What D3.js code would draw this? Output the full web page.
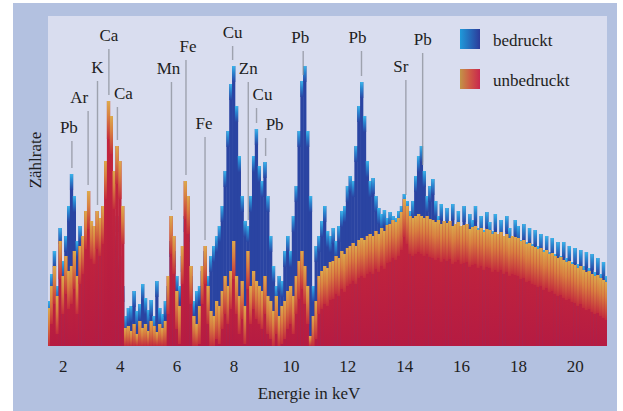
<!DOCTYPE html>
<html>
<head>
<meta charset="utf-8">
<script src="https://cdn.jsdelivr.net/npm/d3@7"></script>
<style>
  body { margin: 0; background: #fff; }
  svg text { font-family: "Liberation Serif", "DejaVu Serif", serif; fill: #1e1e22; }
</style>
</head>
<body>
<script>
// spectrum bins: 0.1 keV wide, first bin centred on 1.5 keV
var binStart = 1.5,
    binWidth = 0.1;

// counts per bin, one row = 1 keV
var bedruckt = [
  45, 72, 95, 60, 118, 85, 110, 140, 172, 150,
  105, 120, 95, 110, 125, 100, 115, 120, 95, 110,
  130, 140, 120, 110, 130, 90, 60, 30, 38, 40,
  55, 35, 42, 62, 48, 36, 46, 30, 65, 38,
  32, 45, 60, 105, 95, 70, 60, 90, 130, 120,
  70, 45, 55, 60, 75, 95, 70, 90, 100, 110,
  120, 140, 175, 215, 262, 280, 240, 190, 150, 125,
  120, 150, 190, 217, 180, 165, 184, 150, 110, 80,
  60, 70, 65, 95, 110, 95, 130, 160, 215, 265,
  280, 215, 150, 60, 100, 110, 125, 140, 115, 110,
  118, 105, 120, 135, 140, 160, 170, 165, 200, 240,
  264, 230, 185, 165, 168, 150, 138, 132, 136, 128,
  134, 130, 128, 135, 140, 152, 145, 135, 145, 170,
  190, 200, 175, 150, 160, 167, 145, 130, 142, 125,
  138, 124, 142, 122, 135, 120, 140, 118, 132, 126,
  140, 118, 130, 116, 134, 124, 115, 132, 112, 126,
  110, 130, 118, 108, 126, 120, 106, 122, 104, 118,
  102, 116, 100, 112, 96, 110, 94, 108, 92, 104,
  90, 104, 88, 100, 84, 98, 82, 96, 80, 94,
  78, 92, 74, 88, 72, 84, 70];

var unbedruckt = [
  38, 60, 80, 50, 105, 70, 90, 75, 80, 95,
  70, 100, 110, 135, 155, 125, 120, 135, 128, 140,
  185, 245, 230, 175, 200, 185, 140, 18, 20, 15,
  22, 12, 25, 18, 22, 15, 25, 20, 14, 22,
  18, 25, 70, 130, 110, 55, 40, 100, 165, 150,
  80, 30, 22, 40, 80, 100, 60, 35, 30, 45,
  40, 55, 70, 60, 75, 105, 70, 50, 65, 40,
  95, 60, 75, 65, 60, 55, 70, 50, 45, 35,
  50, 30, 40, 45, 55, 60, 50, 70, 85, 95,
  80, 60, 10, 30, 45, 70, 75, 80, 78, 84,
  85, 90, 88, 95, 92, 98, 100, 103, 100, 106,
  108, 106, 110, 112, 110, 115, 112, 118, 115, 121,
  122, 126, 124, 128, 134, 147, 140, 130, 128, 130,
  132, 130, 128, 130, 127, 126, 124, 126, 122, 125,
  123, 125, 120, 122, 124, 120, 121, 122, 117, 119,
  120, 116, 118, 114, 117, 116, 112, 114, 112, 114,
  110, 112, 108, 110, 109, 108, 105, 106, 102, 103,
  100, 99, 97, 98, 94, 96, 92, 93, 90, 88,
  89, 86, 84, 85, 82, 81, 78, 80, 76, 74,
  75, 72, 70, 71, 68, 66, 64];

var xTicks = [2, 4, 6, 8, 10, 12, 14, 16, 18, 20];

var peakNames = ["Pb", "Ar", "K", "Ca", "Ca", "Mn", "Fe", "Fe", "Cu", "Zn", "Cu", "Pb", "Pb", "Pb", "Sr", "Pb"];
var peakEnergies = [2.32, 2.89, 3.22, 3.62, 3.92, 5.82, 6.33, 7.0, 7.97, 8.52, 8.81, 9.13, 10.45, 12.5, 14.06, 14.65];
// label placement (px): text baseline and shift of text centre from the marker line
var peakLabelY = [133, 103, 73, 41, 99, 74, 52, 129, 38, 74, 100, 130, 43, 43, 72, 45];
var peakLabelDx = [-3, -9, 0, 0, 6, -3, 2, -1, 0, 0, 6, 9, -3, -4, -5, 0];

var legendNames = ["bedruckt", "unbedruckt"];

var W = 623, H = 411;
var plot = {left: 48, right: 607, top: 16, bottom: 346};

var svg = d3.select("body").append("svg")
    .attr("width", W)
    .attr("height", H);

var defs = svg.append("defs");

function grad(id, horizontal, stops) {
    var g = defs.append("linearGradient").attr("id", id)
        .attr("x1", 0).attr("y1", 0)
        .attr("x2", horizontal ? 1 : 0).attr("y2", horizontal ? 0 : 1);
    stops.forEach(function(s) {
        g.append("stop").attr("offset", s[0]).attr("stop-color", s[1]);
    });
}
grad("blueCap", false, [[0, "#3cb4ea"], [0.4, "#2a86d0"], [1, "#2a45a4"]]);
grad("redCap", false, [[0, "#dcaa4c"], [0.4, "#d88040"], [1, "#c42c3c"]]);
grad("redBody", false, [[0, "#c4263c"], [1, "#b51b42"]]);
grad("blueKey", true, [[0, "#1f9ada"], [1, "#2c3b9a"]]);
grad("redKey", true, [[0, "#c29448"], [0.5, "#cf5845"], [1, "#c8284e"]]);

defs.append("clipPath").attr("id", "plotClip")
    .append("rect")
    .attr("x", plot.left).attr("y", plot.top)
    .attr("width", plot.right - plot.left)
    .attr("height", plot.bottom - plot.top);

// frame and panel
svg.append("rect")
    .attr("x", 13).attr("y", 3)
    .attr("width", 604).attr("height", H - 3)
    .attr("fill", "#b3c1e0");
svg.append("rect")
    .attr("x", plot.left).attr("y", plot.top)
    .attr("width", plot.right - plot.left)
    .attr("height", plot.bottom - plot.top)
    .attr("fill", "#d9ddef");

var x = d3.scaleLinear()
    .domain([1.48, 21.13])
    .range([plot.left, plot.right]);

var y = d3.scaleLinear()
    .domain([0, 300])
    .range([plot.bottom, plot.bottom - 300]);

function binX(i) { return binStart + i * binWidth; }

var g = svg.append("g").attr("clip-path", "url(#plotClip)");

function drawSeries(values, cls, capH, bodyFill, capFill) {
    var bars = g.append("g").attr("class", cls)
        .selectAll("g")
        .data(values)
        .enter()
        .append("g");

    bars.append("rect")
        .attr("x", function(d, i) { return x(binX(i) - binWidth / 2); })
        .attr("y", function(d) { return y(d); })
        .attr("width", x(binWidth) - x(0) + 0.4)
        .attr("height", function(d) { return y(0) - y(d); })
        .attr("fill", bodyFill);

    bars.append("rect")
        .attr("x", function(d, i) { return x(binX(i) - binWidth / 2); })
        .attr("y", function(d) { return y(d); })
        .attr("width", x(binWidth) - x(0) + 0.4)
        .attr("height", function(d) { return Math.min(capH, y(0) - y(d)); })
        .attr("fill", capFill);
}

drawSeries(bedruckt, "bedruckt", 16, "#2a44a2", "url(#blueCap)");
drawSeries(unbedruckt, "unbedruckt", 38, "url(#redBody)", "url(#redCap)");

// peak markers
function peakTop(e) {
    var i = Math.round((e - binStart) / binWidth);
    return Math.max(bedruckt[i], unbedruckt[i]);
}

svg.append("g").selectAll("line")
    .data(peakEnergies)
    .enter()
    .append("line")
    .attr("x1", function(d) { return x(d); })
    .attr("x2", function(d) { return x(d); })
    .attr("y1", function(d, i) { return peakLabelY[i] + 8; })
    .attr("y2", function(d) { return y(peakTop(d)) - 6; })
    .attr("stroke", "#8a8e98")
    .attr("stroke-width", 1.4)
    .attr("stroke-opacity", 0.75);

svg.append("g").selectAll("text")
    .data(peakNames)
    .enter()
    .append("text")
    .attr("x", function(d, i) { return x(peakEnergies[i]) + peakLabelDx[i]; })
    .attr("y", function(d, i) { return peakLabelY[i]; })
    .attr("text-anchor", "middle")
    .style("font-size", "17px")
    .text(function(d) { return d; });

// x axis: labels only
var xAxis = d3.axisBottom(x)
    .tickValues(xTicks)
    .tickSize(0)
    .tickPadding(14);

var xg = svg.append("g")
    .attr("transform", "translate(0," + plot.bottom + ")")
    .call(xAxis);
xg.select(".domain").remove();
xg.selectAll("text")
    .style("font-size", "17px")
    .style("font-family", "'Liberation Serif', serif")
    .attr("fill", "#1e1e22");

svg.append("text")
    .attr("x", 309)
    .attr("y", 399)
    .attr("text-anchor", "middle")
    .style("font-size", "17px")
    .text("Energie in keV");

svg.append("text")
    .attr("transform", "translate(41,160) rotate(-90)")
    .attr("text-anchor", "middle")
    .style("font-size", "17px")
    .text("Zählrate");

// legend
var legend = svg.append("g").selectAll("g")
    .data(legendNames)
    .enter()
    .append("g")
    .attr("transform", function(d, i) { return "translate(460," + (29 + i * 40) + ")"; });

legend.append("rect")
    .attr("width", 20)
    .attr("height", 20)
    .attr("fill", function(d, i) { return i === 0 ? "url(#blueKey)" : "url(#redKey)"; });

legend.append("text")
    .attr("x", 33)
    .attr("y", 17)
    .style("font-size", "17px")
    .text(function(d) { return d; });
</script>
</body>
</html>
